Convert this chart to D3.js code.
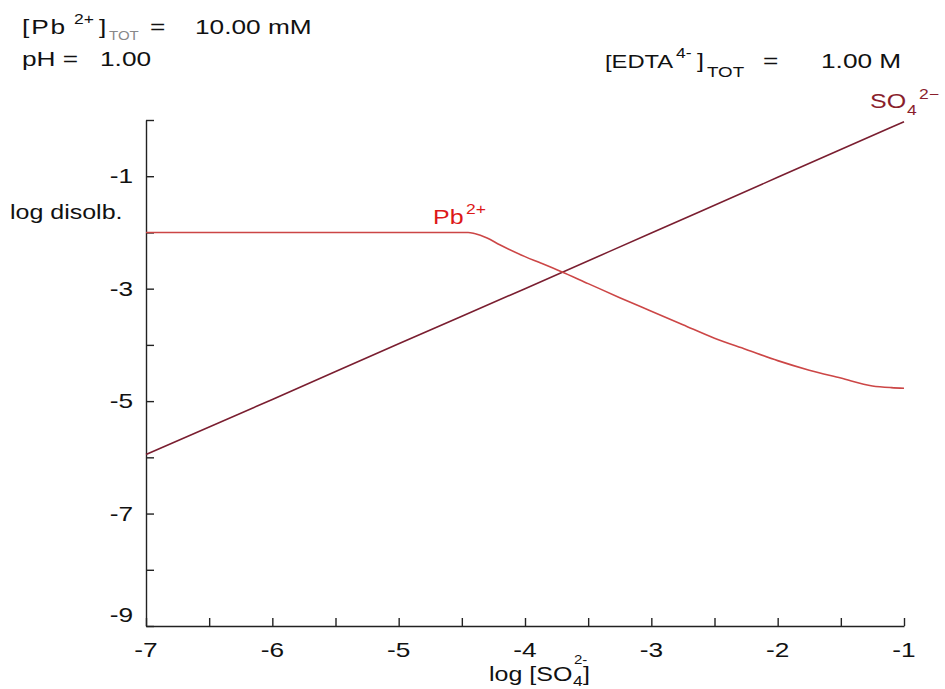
<!DOCTYPE html>
<html>
<head>
<meta charset="utf-8">
<script src="https://cdn.jsdelivr.net/npm/d3@7"></script>
<style>
  html, body { margin: 0; padding: 0; background: #fff; }
  svg { display: block; font-family: "Liberation Sans", Arial, sans-serif; }
</style>
</head>
<body>
<svg id="chart" width="945" height="689"></svg>
<script>
// ---- data ----
const xTickValues = [-7, -6.5, -6, -5.5, -5, -4.5, -4, -3.5, -3, -2.5, -2, -1.5, -1];
const yTickValues = [0, -1, -2, -3, -4, -5, -6, -7, -8, -9];

const so4X = [-7, -6, -5, -4, -3, -2, -1];
const so4Y = [-5.95, -4.97, -3.98, -3.0, -2.01, -1.02, -0.03];

const pbX = [-7, -6, -5, -4.6, -4.45, -4.4, -4.3, -4.2, -4.0, -3.88, -3.72, -3.5, -3.25, -3.0, -2.75, -2.5, -2.25, -2.0, -1.75, -1.5, -1.25, -1.1, -1.0];
const pbY = [-2, -2, -2, -2, -2.0, -2.02, -2.1, -2.22, -2.43, -2.54, -2.69, -2.91, -3.16, -3.40, -3.64, -3.88, -4.08, -4.28, -4.45, -4.59, -4.73, -4.76, -4.77];

// ---- layout ----
const SX = 1.25;   // horizontal stretch of the reference text
const svg = d3.select("#chart");
const x = d3.scaleLinear().domain([-7, -1]).range([146, 904]);
const y = d3.scaleLinear().domain([-9, 0]).range([626, 120]);

function label(g, px, py, str, size, opts = {}) {
  const t = g.append("text")
    .attr("transform", `translate(${px},${py}) scale(${SX},1)`)
    .attr("font-size", size)
    .attr("fill", opts.fill || "#111")
    .attr("text-anchor", opts.anchor || "start")
    .text(str);
  if (opts.spacing) t.attr("letter-spacing", opts.spacing);
  return t;
}

// ---- axes ----
const xAxis = svg.append("g").attr("transform", `translate(0,${y(-9)})`)
  .call(d3.axisBottom(x).tickValues(xTickValues).tickSizeInner(-8).tickSizeOuter(0).tickFormat(""));
const yAxis = svg.append("g").attr("transform", `translate(${x(-7)},0)`)
  .call(d3.axisLeft(y).tickValues(yTickValues).tickSizeInner(-8).tickSizeOuter(0).tickFormat(""));
[xAxis, yAxis].forEach(a => {
  a.selectAll("path, line").attr("stroke", "#222").attr("stroke-width", 1.4);
});

// tick labels
xTickValues.filter(v => Number.isInteger(v)).forEach(v => {
  label(svg, x(v), 657, String(v), 21, { anchor: "middle" });
});
yTickValues.filter(v => Math.abs(v) % 2 === 1).forEach(v => {
  const off = v === -9 ? -4 : 7;
  label(svg, 133, y(v) + off, String(v), 21, { anchor: "end" });
});

// ---- series ----
const lineGen = d3.line().x(d => x(d[0])).y(d => y(d[1])).curve(d3.curveMonotoneX);
svg.append("path")
  .datum(so4X.map((v, i) => [v, so4Y[i]]))
  .attr("d", lineGen)
  .attr("fill", "none").attr("stroke", "#7a1e30").attr("stroke-width", 1.6);
svg.append("path")
  .datum(pbX.map((v, i) => [v, pbY[i]]))
  .attr("d", lineGen)
  .attr("fill", "none").attr("stroke", "#cc4646").attr("stroke-width", 1.6);

// ---- series labels ----
label(svg, 433, 224, "Pb", 20, { fill: "#dd1818" });
label(svg, 466, 214, "2+", 14, { fill: "#dd1818" });
label(svg, 870, 108, "SO", 20, { fill: "#8a1e2c" });
label(svg, 907, 115, "4", 14, { fill: "#8a1e2c" });
label(svg, 919, 99, "2\u2212", 14, { fill: "#8a1e2c" });

// ---- axis titles ----
label(svg, 10, 219, "log disolb.", 20);
label(svg, 489, 681, "log [SO", 20);
label(svg, 573, 686, "4", 14);
label(svg, 574, 664, "2-", 12);
label(svg, 583, 681, "]", 20);

// ---- header texts ----
label(svg, 22, 34, "[Pb", 21, { spacing: 1.5 });
label(svg, 74, 24, "2+", 14);
label(svg, 99, 34, "]", 21);
label(svg, 109, 40, "TOT", 12, { fill: "#888" });
label(svg, 150, 34, "=", 21);
label(svg, 195, 34, "10.00 mM", 21);

label(svg, 22, 66, "pH =", 21);
label(svg, 100, 66, "1.00", 21);

label(svg, 605, 68, "[EDTA", 19);
label(svg, 676, 58, "4-", 14);
label(svg, 697, 68, "]", 20);
label(svg, 707, 77, "TOT", 15);
label(svg, 763, 68, "=", 21);
label(svg, 821, 68, "1.00 M", 21);
</script>
</body>
</html>
